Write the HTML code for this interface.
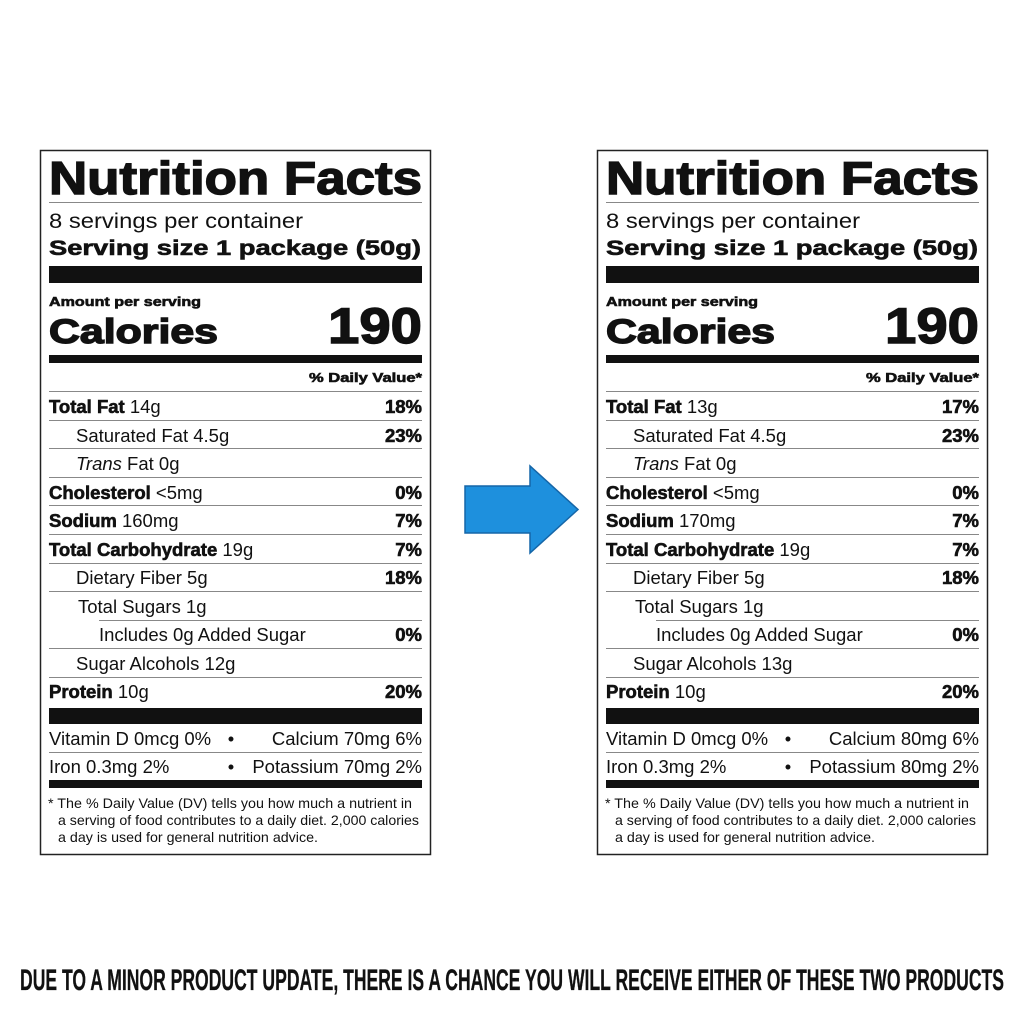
<!DOCTYPE html>
<html><head><meta charset="utf-8"><style>
html,body{margin:0;padding:0;background:#fff;}
svg{display:block;}
text{font-family:"Liberation Sans",Arial,sans-serif;fill:#111;}
.b{font-weight:bold;stroke:#111;stroke-width:0.6;}
.bb{font-weight:bold;stroke:#111;stroke-width:1.4;}
.r{font-size:18.5px;}
.f{font-size:14px;}
</style></head><body>
<svg width="1024" height="1024" viewBox="0 0 1024 1024" xmlns="http://www.w3.org/2000/svg">
<rect width="1024" height="1024" fill="#fff"/>

<!-- LEFT LABEL -->
<g>
<rect x="40.5" y="150.5" width="390" height="704" fill="#fff" stroke="#222" stroke-width="1.5"/>
<text x="49" y="194" class="bb" font-size="46" textLength="373" lengthAdjust="spacingAndGlyphs">Nutrition Facts</text>
<rect x="49" y="202" width="373" height="1" fill="#888"/>
<text x="49" y="228" font-size="21" textLength="254" lengthAdjust="spacingAndGlyphs">8 servings per container</text>
<text x="49" y="255" class="b" font-size="21" textLength="372" lengthAdjust="spacingAndGlyphs">Serving size 1 package (50g)</text>
<rect x="49" y="266" width="373" height="17" fill="#111"/>
<text x="49" y="306" class="b" font-size="13" textLength="152" lengthAdjust="spacingAndGlyphs">Amount per serving</text>
<text x="49" y="343" class="bb" font-size="34" textLength="169" lengthAdjust="spacingAndGlyphs">Calories</text>
<text x="422" y="343" class="bb" font-size="50" text-anchor="end" textLength="94" lengthAdjust="spacingAndGlyphs">190</text>
<rect x="49" y="355" width="373" height="8" fill="#111"/>
<text x="422" y="382" class="b" font-size="13" text-anchor="end" textLength="113" lengthAdjust="spacingAndGlyphs">% Daily Value*</text>
<g fill="#888">
<rect x="49" y="391" width="373" height="1"/><rect x="49" y="420" width="373" height="1"/><rect x="49" y="448" width="373" height="1"/>
<rect x="49" y="477" width="373" height="1"/><rect x="49" y="505" width="373" height="1"/><rect x="49" y="534" width="373" height="1"/>
<rect x="49" y="563" width="373" height="1"/><rect x="49" y="591" width="373" height="1"/><rect x="99" y="620" width="323" height="1"/>
<rect x="49" y="648" width="373" height="1"/><rect x="49" y="677" width="373" height="1"/><rect x="49" y="752" width="373" height="1"/>
</g>
<text x="49" y="413" class="r"><tspan class="b">Total Fat</tspan> 14g</text><text x="422" y="413" class="r b" text-anchor="end">18%</text>
<text x="76" y="442" class="r">Saturated Fat 4.5g</text><text x="422" y="442" class="r b" text-anchor="end">23%</text>
<text x="76" y="470" class="r"><tspan font-style="italic">Trans</tspan> Fat 0g</text>
<text x="49" y="499" class="r"><tspan class="b">Cholesterol</tspan> &lt;5mg</text><text x="422" y="499" class="r b" text-anchor="end">0%</text>
<text x="49" y="527" class="r"><tspan class="b">Sodium</tspan> 160mg</text><text x="422" y="527" class="r b" text-anchor="end">7%</text>
<text x="49" y="556" class="r"><tspan class="b">Total Carbohydrate</tspan> 19g</text><text x="422" y="556" class="r b" text-anchor="end">7%</text>
<text x="76" y="584" class="r">Dietary Fiber 5g</text><text x="422" y="584" class="r b" text-anchor="end">18%</text>
<text x="78" y="613" class="r">Total Sugars 1g</text>
<text x="99" y="641" class="r">Includes 0g Added Sugar</text><text x="422" y="641" class="r b" text-anchor="end">0%</text>
<text x="76" y="670" class="r">Sugar Alcohols 12g</text>
<text x="49" y="698" class="r"><tspan class="b">Protein</tspan> 10g</text><text x="422" y="698" class="r b" text-anchor="end">20%</text>
<rect x="49" y="708" width="373" height="16" fill="#111"/>
<text x="49" y="745" class="r">Vitamin D 0mcg 0%</text><text x="231" y="745" class="r" text-anchor="middle">•</text><text x="422" y="745" class="r" text-anchor="end">Calcium 70mg 6%</text>
<text x="49" y="773" class="r">Iron 0.3mg 2%</text><text x="231" y="773" class="r" text-anchor="middle">•</text><text x="422" y="773" class="r" text-anchor="end">Potassium 70mg 2%</text>
<rect x="49" y="780" width="373" height="8" fill="#111"/>
<text x="48" y="808" class="f" textLength="364" lengthAdjust="spacingAndGlyphs">* The % Daily Value (DV) tells you how much a nutrient in</text>
<text x="58" y="825" class="f" textLength="361" lengthAdjust="spacingAndGlyphs">a serving of food contributes to a daily diet. 2,000 calories</text>
<text x="58" y="842" class="f" textLength="260" lengthAdjust="spacingAndGlyphs">a day is used for general nutrition advice.</text>
</g>

<!-- RIGHT LABEL -->
<g transform="translate(557,0)">
<rect x="40.5" y="150.5" width="390" height="704" fill="#fff" stroke="#222" stroke-width="1.5"/>
<text x="49" y="194" class="bb" font-size="46" textLength="373" lengthAdjust="spacingAndGlyphs">Nutrition Facts</text>
<rect x="49" y="202" width="373" height="1" fill="#888"/>
<text x="49" y="228" font-size="21" textLength="254" lengthAdjust="spacingAndGlyphs">8 servings per container</text>
<text x="49" y="255" class="b" font-size="21" textLength="372" lengthAdjust="spacingAndGlyphs">Serving size 1 package (50g)</text>
<rect x="49" y="266" width="373" height="17" fill="#111"/>
<text x="49" y="306" class="b" font-size="13" textLength="152" lengthAdjust="spacingAndGlyphs">Amount per serving</text>
<text x="49" y="343" class="bb" font-size="34" textLength="169" lengthAdjust="spacingAndGlyphs">Calories</text>
<text x="422" y="343" class="bb" font-size="50" text-anchor="end" textLength="94" lengthAdjust="spacingAndGlyphs">190</text>
<rect x="49" y="355" width="373" height="8" fill="#111"/>
<text x="422" y="382" class="b" font-size="13" text-anchor="end" textLength="113" lengthAdjust="spacingAndGlyphs">% Daily Value*</text>
<g fill="#888">
<rect x="49" y="391" width="373" height="1"/><rect x="49" y="420" width="373" height="1"/><rect x="49" y="448" width="373" height="1"/>
<rect x="49" y="477" width="373" height="1"/><rect x="49" y="505" width="373" height="1"/><rect x="49" y="534" width="373" height="1"/>
<rect x="49" y="563" width="373" height="1"/><rect x="49" y="591" width="373" height="1"/><rect x="99" y="620" width="323" height="1"/>
<rect x="49" y="648" width="373" height="1"/><rect x="49" y="677" width="373" height="1"/><rect x="49" y="752" width="373" height="1"/>
</g>
<text x="49" y="413" class="r"><tspan class="b">Total Fat</tspan> 13g</text><text x="422" y="413" class="r b" text-anchor="end">17%</text>
<text x="76" y="442" class="r">Saturated Fat 4.5g</text><text x="422" y="442" class="r b" text-anchor="end">23%</text>
<text x="76" y="470" class="r"><tspan font-style="italic">Trans</tspan> Fat 0g</text>
<text x="49" y="499" class="r"><tspan class="b">Cholesterol</tspan> &lt;5mg</text><text x="422" y="499" class="r b" text-anchor="end">0%</text>
<text x="49" y="527" class="r"><tspan class="b">Sodium</tspan> 170mg</text><text x="422" y="527" class="r b" text-anchor="end">7%</text>
<text x="49" y="556" class="r"><tspan class="b">Total Carbohydrate</tspan> 19g</text><text x="422" y="556" class="r b" text-anchor="end">7%</text>
<text x="76" y="584" class="r">Dietary Fiber 5g</text><text x="422" y="584" class="r b" text-anchor="end">18%</text>
<text x="78" y="613" class="r">Total Sugars 1g</text>
<text x="99" y="641" class="r">Includes 0g Added Sugar</text><text x="422" y="641" class="r b" text-anchor="end">0%</text>
<text x="76" y="670" class="r">Sugar Alcohols 13g</text>
<text x="49" y="698" class="r"><tspan class="b">Protein</tspan> 10g</text><text x="422" y="698" class="r b" text-anchor="end">20%</text>
<rect x="49" y="708" width="373" height="16" fill="#111"/>
<text x="49" y="745" class="r">Vitamin D 0mcg 0%</text><text x="231" y="745" class="r" text-anchor="middle">•</text><text x="422" y="745" class="r" text-anchor="end">Calcium 80mg 6%</text>
<text x="49" y="773" class="r">Iron 0.3mg 2%</text><text x="231" y="773" class="r" text-anchor="middle">•</text><text x="422" y="773" class="r" text-anchor="end">Potassium 80mg 2%</text>
<rect x="49" y="780" width="373" height="8" fill="#111"/>
<text x="48" y="808" class="f" textLength="364" lengthAdjust="spacingAndGlyphs">* The % Daily Value (DV) tells you how much a nutrient in</text>
<text x="58" y="825" class="f" textLength="361" lengthAdjust="spacingAndGlyphs">a serving of food contributes to a daily diet. 2,000 calories</text>
<text x="58" y="842" class="f" textLength="260" lengthAdjust="spacingAndGlyphs">a day is used for general nutrition advice.</text>
</g>

<!-- ARROW -->
<polygon points="465,486 530,486 530,466 578,509.5 530,553 530,533 465,533" fill="#1e90dd" stroke="#1566a8" stroke-width="1.5"/>

<!-- BOTTOM TEXT -->
<text x="20" y="990" font-size="30" font-weight="bold" stroke="#111" stroke-width="0.3" textLength="984" lengthAdjust="spacingAndGlyphs">DUE TO A MINOR PRODUCT UPDATE, THERE IS A CHANCE YOU WILL RECEIVE EITHER OF THESE TWO PRODUCTS</text>
</svg>
</body></html>
